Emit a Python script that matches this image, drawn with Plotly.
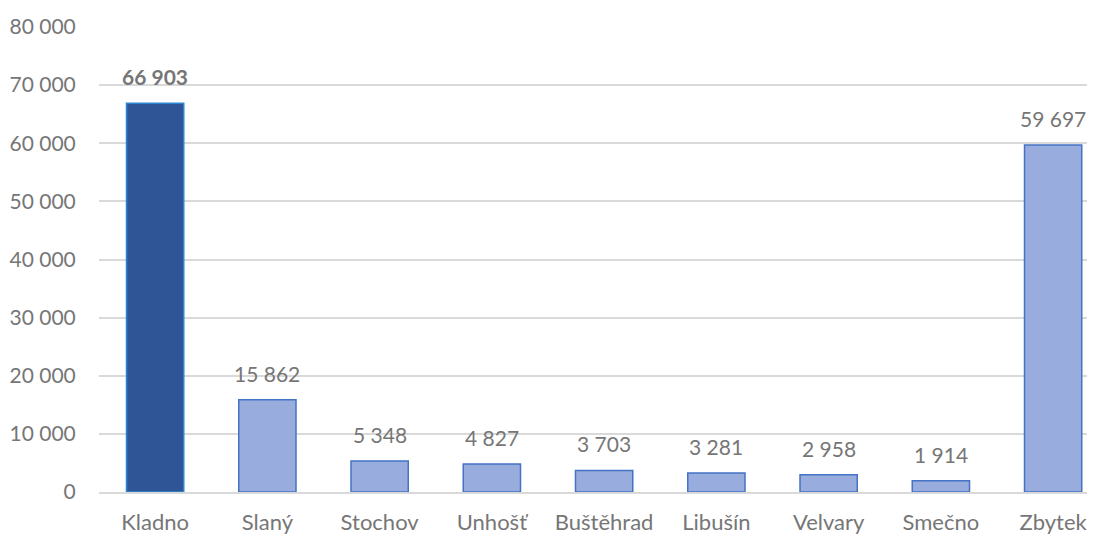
import plotly.graph_objects as go

# obce a počty obyvatel
obce = ["Kladno", "Slaný", "Stochov", "Unhošť", "Buštěhrad", "Libušín", "Velvary", "Smečno", "Zbytek"]
obyvatele = [66903, 15862, 5348, 4827, 3703, 3281, 2958, 1914, 59697]
y_ticks = [0, 10000, 20000, 30000, 40000, 50000, 60000, 70000, 80000]

GRAY = "#767676"
FONT = "Lato"

fill = ["#2F5597" if o == "Kladno" else "#98ACDD" for o in obce]
edge = ["#2E86D0" if o == "Kladno" else "#4472C4" for o in obce]

fig = go.Figure()
fig.add_trace(go.Bar(
    x=obce,
    y=obyvatele,
    width=0.51,
    marker=dict(color=fill, line=dict(color=edge, width=1.5)),
    hoverinfo="x+y",
))

# popisky hodnot nad sloupci
for o, v in zip(obce, obyvatele):
    txt = f"{v:,}".replace(",", " ")
    if o == "Kladno":
        txt = f"<b>{txt}</b>"
    fig.add_annotation(
        x=o, y=v, text=txt, showarrow=False,
        yanchor="bottom", yshift=12,
        font=dict(family=FONT, size=21, color=GRAY),
    )

# stránka má okraj 8 px, proto je graf o 8 px menší
fig.update_layout(
    width=1087,
    height=527,
    margin=dict(l=91, r=0, t=19, b=39),
    plot_bgcolor="white",
    paper_bgcolor="white",
    showlegend=False,
    bargap=0.49,
    separators=", ",
    font=dict(family=FONT, size=21, color=GRAY),
)
fig.update_xaxes(
    range=[-0.5, 8.373],
    showgrid=False,
    showline=True,
    linecolor="#D9D9D9",
    linewidth=1.5,
    ticks="outside",
    ticklen=10,
    tickcolor="rgba(0,0,0,0)",
    tickfont=dict(family=FONT, size=22, color=GRAY),
)
fig.update_yaxes(
    range=[0, 80000],
    tickvals=y_ticks,
    tickformat=",d",
    showgrid=True,
    gridcolor="#D9D9D9",
    gridwidth=1.5,
    zeroline=False,
    ticks="outside",
    ticklen=18,
    tickcolor="rgba(0,0,0,0)",
    tickfont=dict(family=FONT, size=21, color=GRAY),
)

fig.write_html("out.html")
